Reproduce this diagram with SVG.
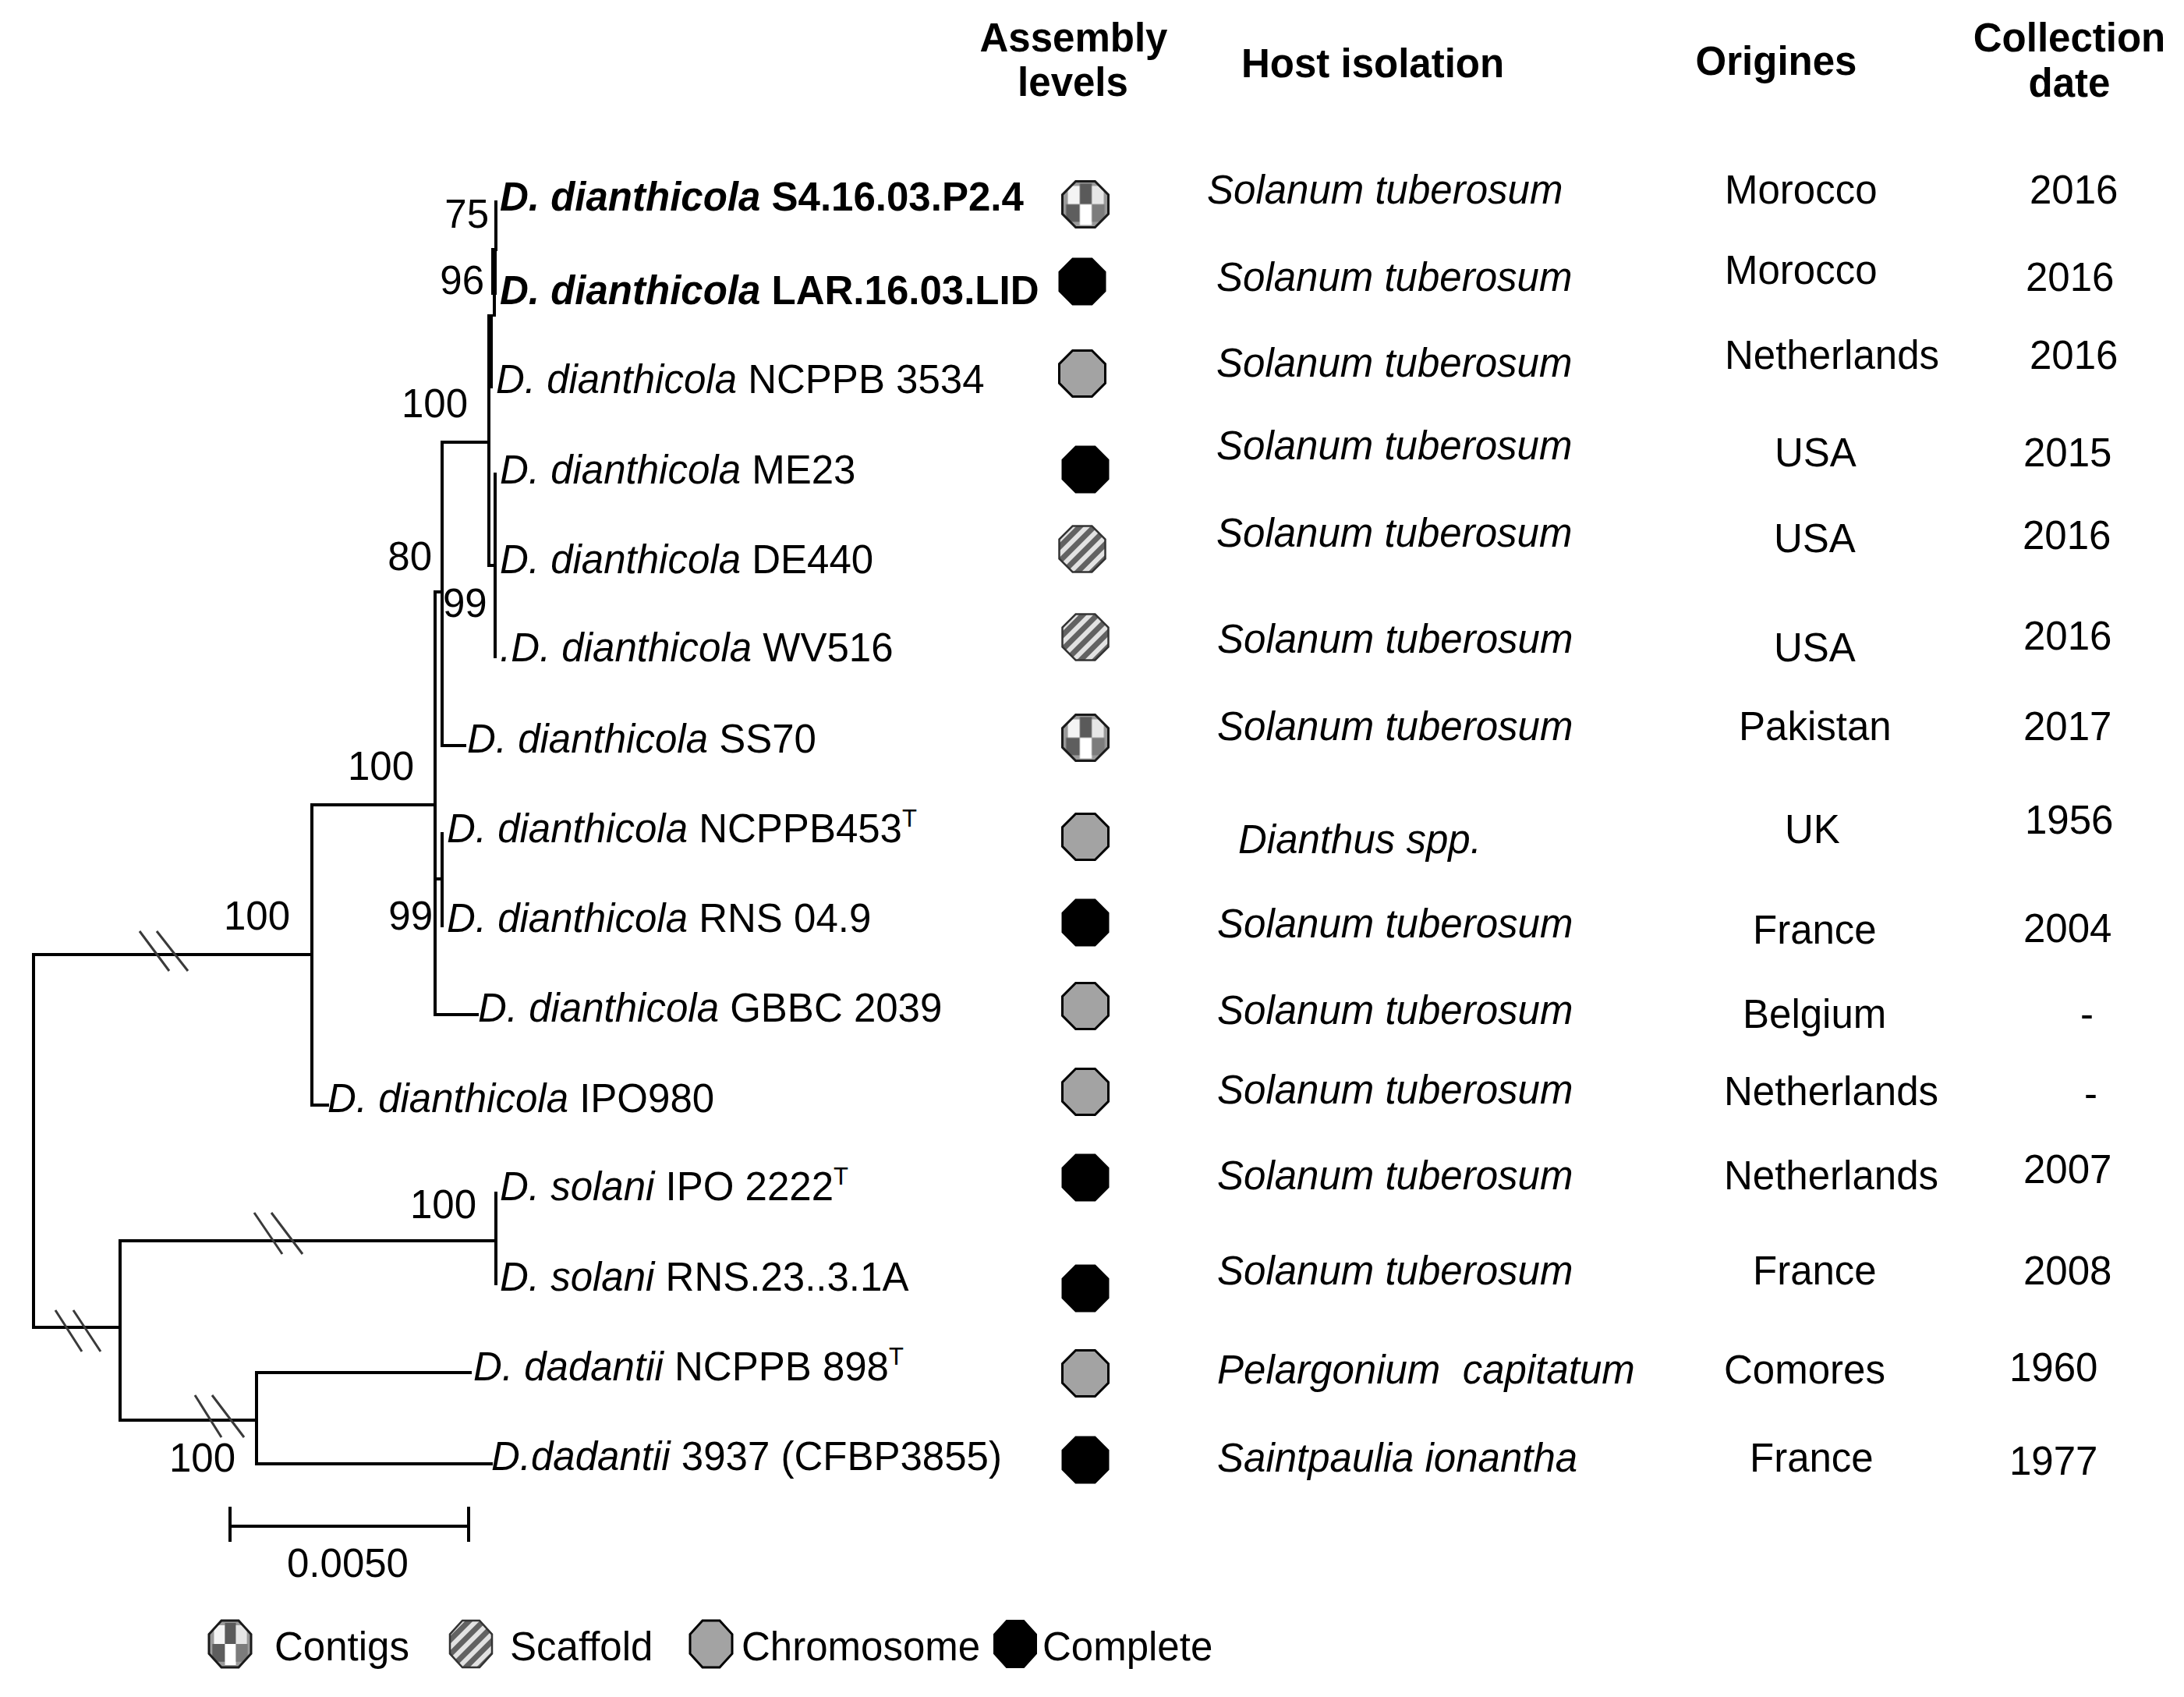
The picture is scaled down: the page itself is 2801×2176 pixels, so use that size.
<svg xmlns="http://www.w3.org/2000/svg" width="2801" height="2176" viewBox="0 0 2801 2176">
<style>
text { font-family: "Liberation Sans", Arial, sans-serif; font-size: 51px; fill: #000; }
.i { font-style: italic; }
.b { font-weight: bold; }
.hd { font-weight: bold; text-anchor: middle; }
.end { text-anchor: end; }
.mid { text-anchor: middle; }
.sup { font-size: 31px; }
.br { stroke: #000; stroke-width: 4; fill: none; stroke-linecap: square; stroke-linejoin: miter; }
.brk { stroke: #3a3a3a; stroke-width: 3; fill: none; }
.complete { fill: #000; stroke: #000; stroke-width: 2; }
.chrom { fill: #a3a3a3; stroke: #000; stroke-width: 3; }
.contig { fill: url(#contigPat); stroke: #1a1a1a; stroke-width: 3; }
.scaf { fill: url(#scafPat); stroke: #333; stroke-width: 2.5; }
</style>
<defs>
<polygon id="oct" points="-12.4,-29.5 12.4,-29.5 29.5,-12.4 29.5,12.4 12.4,29.5 -12.4,29.5 -29.5,12.4 -29.5,-12.4"/>
<polygon id="octL" points="-11,-30 11,-30 27,-12.4 27,12.4 11,30 -11,30 -27,12.4 -27,-12.4"/>
<pattern id="contigPat" patternUnits="objectBoundingBox" patternContentUnits="objectBoundingBox" width="1" height="1">
<rect x="0" y="0" width="1" height="1" fill="#9a9a9a"/>
<rect x="0.12" y="0.1" width="0.26" height="0.4" fill="#f4f4f4"/>
<rect x="0.38" y="0.05" width="0.26" height="0.45" fill="#5a5a5a"/>
<rect x="0.64" y="0.1" width="0.26" height="0.4" fill="#e6e6e6"/>
<rect x="0.08" y="0.5" width="0.3" height="0.38" fill="#5e5e5e"/>
<rect x="0.38" y="0.5" width="0.26" height="0.45" fill="#ffffff"/>
<rect x="0.64" y="0.5" width="0.28" height="0.38" fill="#7c7c7c"/>
</pattern>
<pattern id="scafPat" patternUnits="userSpaceOnUse" width="13" height="13" patternTransform="rotate(45)">
<rect x="0" y="0" width="13" height="13" fill="#e2e2e2"/>
<rect x="0" y="0" width="7" height="13" fill="#626262"/>
</pattern>
</defs>
<rect x="0" y="0" width="2801" height="2176" fill="#fff"/>

<g id="headers">
<text class="hd" x="1377" y="66">Assembly</text>
<text class="hd" x="1376" y="123">levels</text>
<text class="b" x="1592" y="99">Host isolation</text>
<text class="hd" x="2278" y="96">Origines</text>
<text class="hd" x="2654" y="66">Collection</text>
<text class="hd" x="2654" y="124">date</text>
</g>

<g id="connectors" class="br">
<path d="M400,1224 H43 V1702 H154"/>
<path d="M558,1032 H400 V1417 H420"/>
<path d="M567,759 H558 V1301 H612"/>
<path d="M558,1127 H567"/>
<path d="M567,1069 V1187"/>
<path d="M627,567 H567 V956 H596"/>
<path d="M627,497 V725 H635"/>
<path d="M635,608 V842"/>
<path d="M636,259 V320"/>
<path d="M634,377 V404"/>
<rect x="630" y="318" width="7" height="60" fill="#000" stroke="none"/>
<rect x="625" y="403" width="7" height="95" fill="#000" stroke="none"/>
<path d="M636,1591 H154 V1821 H329"/>
<path d="M636,1530 V1646"/>
<path d="M603,1760 H329 V1877 H630"/>
</g>

<g id="breaks" class="brk">
<path d="M179,1194 L217,1245 M201,1194 L241,1245"/>
<path d="M71,1680 L105,1733 M94,1680 L129,1733"/>
<path d="M326,1555 L362,1608 M348,1555 L388,1608"/>
<path d="M250,1789 L284,1843 M272,1789 L313,1843"/>
</g>

<g id="bootstrap">
<text class="end" x="627" y="292">75</text>
<text class="end" x="621" y="377">96</text>
<text class="end" x="600" y="535">100</text>
<text class="end" x="554" y="731">80</text>
<text x="568" y="791">99</text>
<text class="end" x="531" y="1000">100</text>
<text class="end" x="372" y="1192">100</text>
<text class="end" x="555" y="1192">99</text>
<text class="end" x="611" y="1562">100</text>
<text class="end" x="302" y="1887">100</text>
</g>

<g id="taxon-1">
<text class="b" x="641" y="270"><tspan class="i">D. dianthicola</tspan> S4.16.03.P2.4</text>
<use href="#oct" class="contig" x="1392" y="262"/>
<text class="i" x="1548" y="261">Solanum tuberosum</text>
<text x="2212" y="261">Morocco</text>
<text x="2603" y="261">2016</text>
</g>
<g id="taxon-2">
<text class="b" x="641" y="390"><tspan class="i">D. dianthicola</tspan> LAR.16.03.LID</text>
<use href="#oct" class="complete" x="1388" y="361"/>
<text class="i" x="1560" y="373">Solanum tuberosum</text>
<text x="2212" y="364">Morocco</text>
<text x="2598" y="373">2016</text>
</g>
<g id="taxon-3">
<text x="636" y="504"><tspan class="i">D. dianthicola</tspan> NCPPB 3534</text>
<use href="#oct" class="chrom" x="1388" y="479"/>
<text class="i" x="1560" y="483">Solanum tuberosum</text>
<text x="2212" y="473">Netherlands</text>
<text x="2603" y="473">2016</text>
</g>
<g id="taxon-4">
<text x="641" y="620"><tspan class="i">D. dianthicola</tspan> ME23</text>
<use href="#oct" class="complete" x="1392" y="602"/>
<text class="i" x="1560" y="589">Solanum tuberosum</text>
<text x="2276" y="598">USA</text>
<text x="2595" y="598">2015</text>
</g>
<g id="taxon-5">
<text x="641" y="735"><tspan class="i">D. dianthicola</tspan> DE440</text>
<use href="#oct" class="scaf" x="1388" y="704"/>
<text class="i" x="1560" y="701">Solanum tuberosum</text>
<text x="2275" y="708">USA</text>
<text x="2594" y="704">2016</text>
</g>
<g id="taxon-6">
<text x="641" y="848"><tspan class="i">.D. dianthicola</tspan> WV516</text>
<use href="#oct" class="scaf" x="1392" y="817"/>
<text class="i" x="1561" y="837">Solanum tuberosum</text>
<text x="2275" y="848">USA</text>
<text x="2595" y="833">2016</text>
</g>
<g id="taxon-7">
<text x="599" y="965"><tspan class="i">D. dianthicola</tspan> SS70</text>
<use href="#oct" class="contig" x="1392" y="946"/>
<text class="i" x="1561" y="949">Solanum tuberosum</text>
<text x="2230" y="949">Pakistan</text>
<text x="2595" y="949">2017</text>
</g>
<g id="taxon-8">
<text x="573" y="1080"><tspan class="i">D. dianthicola</tspan> NCPPB453<tspan class="sup" dy="-20">T</tspan></text>
<use href="#oct" class="chrom" x="1392" y="1073"/>
<text class="i" x="1588" y="1094">Dianthus spp.</text>
<text x="2289" y="1081">UK</text>
<text x="2597" y="1069">1956</text>
</g>
<g id="taxon-9">
<text x="573" y="1195"><tspan class="i">D. dianthicola</tspan> RNS 04.9</text>
<use href="#oct" class="complete" x="1392" y="1183"/>
<text class="i" x="1561" y="1202">Solanum tuberosum</text>
<text x="2248" y="1210">France</text>
<text x="2595" y="1208">2004</text>
</g>
<g id="taxon-10">
<text x="613" y="1310"><tspan class="i">D. dianthicola</tspan> GBBC 2039</text>
<use href="#oct" class="chrom" x="1392" y="1290"/>
<text class="i" x="1561" y="1313">Solanum tuberosum</text>
<text x="2235" y="1318">Belgium</text>
<text x="2668" y="1318">-</text>
</g>
<g id="taxon-11">
<text x="420" y="1426"><tspan class="i">D. dianthicola</tspan> IPO980</text>
<use href="#oct" class="chrom" x="1392" y="1400"/>
<text class="i" x="1561" y="1415">Solanum tuberosum</text>
<text x="2211" y="1417">Netherlands</text>
<text x="2673" y="1420">-</text>
</g>
<g id="taxon-12">
<text x="641" y="1539"><tspan class="i">D. solani</tspan> IPO 2222<tspan class="sup" dy="-20">T</tspan></text>
<use href="#oct" class="complete" x="1392" y="1510"/>
<text class="i" x="1561" y="1525">Solanum tuberosum</text>
<text x="2211" y="1525">Netherlands</text>
<text x="2595" y="1517">2007</text>
</g>
<g id="taxon-13">
<text x="641" y="1655"><tspan class="i">D. solani</tspan> RNS.23..3.1A</text>
<use href="#oct" class="complete" x="1392" y="1652"/>
<text class="i" x="1561" y="1647">Solanum tuberosum</text>
<text x="2248" y="1647">France</text>
<text x="2595" y="1647">2008</text>
</g>
<g id="taxon-14">
<text x="607" y="1770"><tspan class="i">D. dadantii</tspan> NCPPB 898<tspan class="sup" dy="-20">T</tspan></text>
<use href="#oct" class="chrom" x="1392" y="1761"/>
<text class="i" x="1561" y="1774" xml:space="preserve">Pelargonium  capitatum</text>
<text x="2211" y="1774">Comores</text>
<text x="2577" y="1771">1960</text>
</g>
<g id="taxon-15">
<text x="630" y="1885"><tspan class="i">D.dadantii</tspan> 3937 (CFBP3855)</text>
<use href="#oct" class="complete" x="1392" y="1872"/>
<text class="i" x="1561" y="1887">Saintpaulia ionantha</text>
<text x="2244" y="1887">France</text>
<text x="2577" y="1891">1977</text>
</g>

<g id="scale-bar">
<path class="br" d="M295,1957 H601 M295,1934 V1975 M601,1934 V1975"/>
<text class="mid" x="446" y="2022">0.0050</text>
</g>

<g id="legend">
<use href="#octL" class="contig" x="295" y="2108"/>
<text x="352" y="2129">Contigs</text>
<use href="#octL" class="scaf" x="604" y="2108"/>
<text x="654" y="2129">Scaffold</text>
<use href="#octL" class="chrom" x="912" y="2108"/>
<text x="951" y="2129">Chromosome</text>
<use href="#octL" class="complete" x="1302" y="2108"/>
<text x="1337" y="2129">Complete</text>
</g>
</svg>
